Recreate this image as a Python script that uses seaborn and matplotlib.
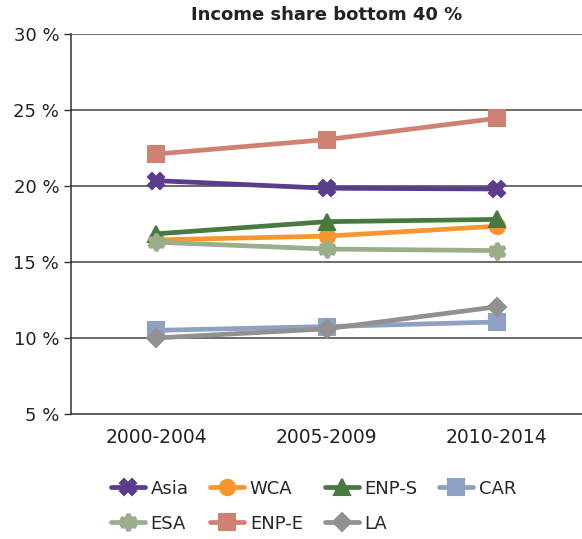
import pandas as pd
import numpy as np
from matplotlib import pyplot as plt
import seaborn as sns

# %% Data
periods = ["2000-2004", "2005-2009", "2010-2014"]
regions = ["Asia", "WCA", "ENP-S", "CAR", "ESA", "ENP-E", "LA"]
asia = [20.35, 19.85, 19.8]
wca = [16.45, 16.7, 17.35]
enp_s = [16.85, 17.65, 17.8]
car = [10.5, 10.75, 11.05]
esa = [16.3, 15.85, 15.75]
enp_e = [22.1, 23.05, 24.45]
la = [10.0, 10.6, 12.05]

colors = ["#5b3b8c", "#f7962f", "#467a3f", "#8ea1c3", "#9aae8c", "#cf8271", "#919191"]
markers = ["X", "o", "^", "s", (6, 1, 0), "s", "D"]
msizes = {"X": 11, "o": 11, "^": 11, "s": 11, "D": 9}


def style_marker(line):
    # edge in line colour, tweak size per marker shape
    line.set_markeredgecolor(line.get_color())
    m = line.get_marker()
    if isinstance(m, tuple):
        line.set_markersize(12)
        line.set_markeredgewidth(3)
    elif m in msizes:
        line.set_markersize(msizes[m])


# %% Frame
values = [asia, wca, enp_s, car, esa, enp_e, la]
rows = []
for reg, vals in zip(regions, values):
    for i, v in enumerate(vals):
        rows.append({"region": reg, "x": i, "value": v})
data = pd.DataFrame(rows)

# %% Plot
sns.set_style("white")
plt.rcParams["font.family"] = ["DejaVu Sans"]
fig = plt.figure(figsize=(5.82, 5.39), dpi=100)
ax = fig.add_axes([0.122, 0.232, 0.878, 0.705])

sns.lineplot(data=data, x="x", y="value", hue="region", style="region",
             hue_order=regions, style_order=regions,
             palette=dict(zip(regions, colors)),
             markers=dict(zip(regions, markers)), dashes=False,
             linewidth=3.4, markersize=11, markeredgewidth=1.5, ax=ax)
for line in ax.lines:
    style_marker(line)

ax.set_xlim(-0.5, 2.5)
ax.set_ylim(5, 30)
ax.set_yticks([5, 10, 15, 20, 25, 30])
ax.set_yticklabels([f"{v} %" for v in [5, 10, 15, 20, 25, 30]])
ax.set_xticks([0, 1, 2])
ax.set_xticklabels(periods)
ax.set_xticks([-0.5, 0.5, 1.5], minor=True)
ax.tick_params(axis="x", which="major", length=0, pad=10, labelsize=13.5, colors="#222222")
ax.tick_params(axis="x", which="minor", length=5, width=1, color="#333333", direction="out")
ax.tick_params(axis="y", length=5, width=1, color="#333333", labelsize=13,
               labelcolor="#222222", left=True)
for y in [10, 15, 20, 25, 30]:
    ax.axhline(y, color="#444444", linewidth=1.1, zorder=0)

ax.spines["top"].set_visible(False)
ax.spines["right"].set_visible(False)
ax.spines["left"].set_color("#333333")
ax.spines["bottom"].set_color("#333333")
ax.spines["left"].set_linewidth(1.1)
ax.spines["bottom"].set_linewidth(1.1)
ax.set_xlabel("")
ax.set_ylabel("")
ax.set_title("Income share bottom 40 %", fontsize=13, fontweight="bold", color="#222222", pad=10)

# legend, column-wise order to get the reference rows
handles, labels = ax.get_legend_handles_labels()
lookup = dict(zip(labels, handles))
order = ["Asia", "ESA", "WCA", "ENP-E", "ENP-S", "LA", "CAR"]
leg = ax.legend([lookup[k] for k in order], order, ncol=4, frameon=False,
                loc="upper left", bbox_to_anchor=(0.046, -0.13), fontsize=13,
                handlelength=1.9, columnspacing=1.2, labelspacing=0.95, handletextpad=0.3)
for h in leg.legend_handles:
    h.set_linewidth(3.4)
    style_marker(h)

plt.savefig("out.png", dpi=100)
